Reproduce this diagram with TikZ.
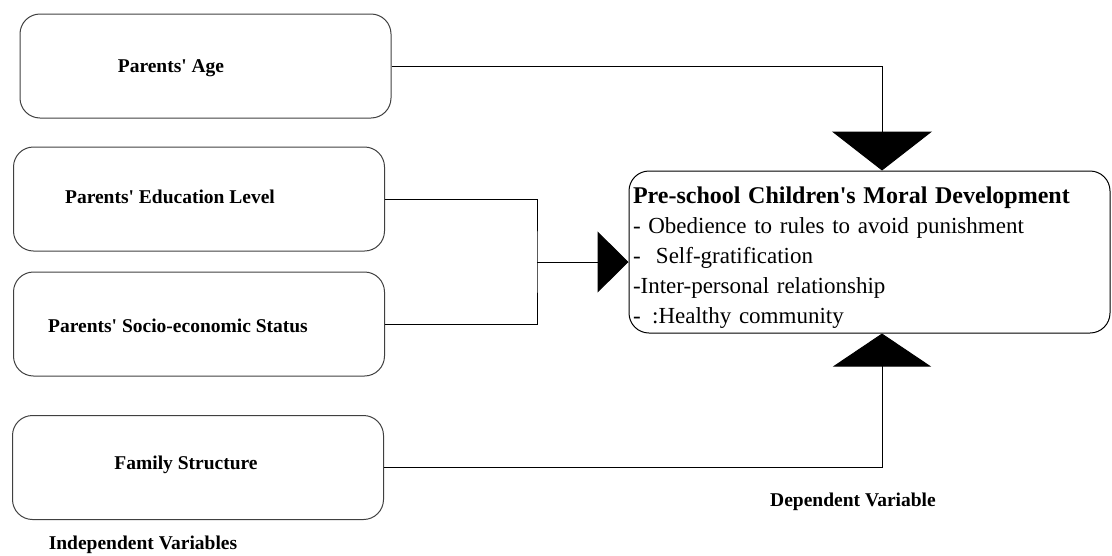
\documentclass[tikz,border=0pt]{standalone}
\usepackage{fontspec}
\setmainfont{Liberation Serif}
\usetikzlibrary{calc,positioning,arrows.meta}

\begin{document}
\begin{tikzpicture}[x=1pt,y=-1pt,
  varbox/.style={draw=black!75,line width=1pt,rounded corners=20pt,minimum width=371pt,minimum height=104pt,inner sep=0pt},
  vartext/.style={font=\fontsize{19.5}{22}\selectfont\bfseries,inner sep=0pt},
  link/.style={draw=black,line width=1pt}]
  \useasboundingbox (0,0) rectangle (1112,555);
  % \draw[color=gray,step=50, help lines,opacity=0.3] (0,0) grid (1112,555); %help grid
  % independent variables
  \node[varbox] (age) at (205.5,66) {};
  \node[varbox] (edu) at (199,199) {};
  \node[varbox] (ses) at (199,324) {};
  \node[varbox] (fam) at (198,467.5) {};
  \node[vartext] (agetxt) at (171,68) {Parents\textquotesingle{} Age};
  \node[vartext] (edutxt) at (170,197) {Parents\textquotesingle{} Education Level};
  \node[vartext] (sestxt) at (178,326) {Parents\textquotesingle{} Socio-economic Status};
  \node[vartext] (famtxt) at (186,465) {Family Structure};
  \node[vartext] (indep) at (143,545) {Independent Variables};
  % dependent variable
  \node[draw=black,line width=1pt,rounded corners=20pt,minimum width=481pt,minimum height=162pt,
        text width=473pt,inner sep=4pt,align=left,font=\fontsize{23}{30}\selectfont] (dev) at (869.5,252)
    {\rule{0pt}{28.5pt}{\fontsize{24}{30}\selectfont\bfseries Pre-school Children\textquotesingle s Moral Development}\\
     - Obedience to rules to avoid punishment\\
     - \ Self-gratification\\
     -Inter-personal relationship\\
     - \,:Healthy community};
  \node[vartext] (dep) at (853,502) {Dependent Variable};
  % connectors
  \coordinate (join) at (537,262);
  \draw[link,-{Triangle[width=100pt,length=39pt]}] (age.east) -| ($(dev.north)+(12.5,0)$);
  \draw[link] (edu.east) -| (join) |- (ses.east);
  \draw[link,-{Triangle[width=61pt,length=31pt]}] (join) -- (join -| dev.west);
  \draw[link,-{Triangle[width=98pt,length=33pt]}] (fam.east) -| ($(dev.south)+(12.5,0)$);
\end{tikzpicture}
\end{document}
